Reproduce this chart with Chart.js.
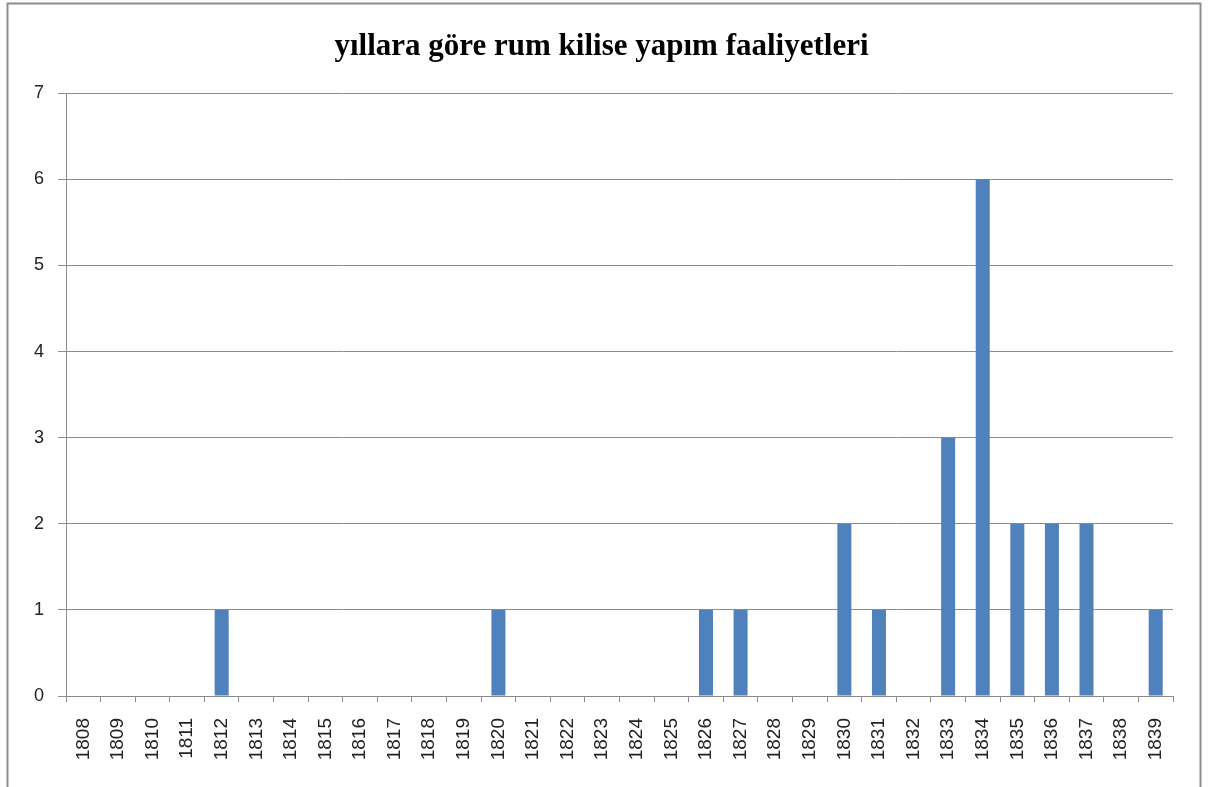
<!DOCTYPE html>
<html>
<head>
<meta charset="utf-8">
<script src="https://cdn.jsdelivr.net/npm/chart.js@4/dist/chart.umd.min.js"></script>
<style>
  html, body { margin: 0; padding: 0; background: #fff; }
  #wrap { width: 1209px; height: 787px; position: relative; }
</style>
</head>
<body>
<div id="wrap"><canvas id="grafik"></canvas></div>
<script>
// yillar ve kilise sayilari
var yillar = ['1808','1809','1810','1811','1812','1813','1814','1815','1816','1817',
              '1818','1819','1820','1821','1822','1823','1824','1825','1826','1827',
              '1828','1829','1830','1831','1832','1833','1834','1835','1836','1837',
              '1838','1839'];
var kiliseSayisi = [0,0,0,0,1,0,0,0,0,0,
                    0,0,1,0,0,0,0,0,1,1,
                    0,0,2,1,0,3,6,2,2,2,
                    0,1];
var yTicks = [0,1,2,3,4,5,6,7];

// dis cerceve
var cerceve = {
    id: 'cerceve',
    beforeDraw: function(chart) {
        var ctx = chart.ctx;
        ctx.save();
        ctx.fillStyle = '#fff';
        ctx.fillRect(0, 0, chart.width, chart.height);
        ctx.strokeStyle = '#8c8c8c';
        ctx.lineWidth = 2;
        ctx.strokeRect(7.5, 3.5, 1193, 800);
        ctx.restore();
    }
};

var grafik = new Chart(document.getElementById('grafik').getContext('2d'), {
    type: 'bar',
    data: {
        labels: yillar,
        datasets: [{
            data: kiliseSayisi,
            backgroundColor: '#4f81bd',
            borderWidth: 0,
            barPercentage: 0.405,
            categoryPercentage: 1
        }]
    },
    options: {
        responsive: true,
        maintainAspectRatio: false,
        animation: false,
        layout: { padding: { left: 30, right: 36, top: 0, bottom: 0 } },
        plugins: {
            legend: { display: false },
            tooltip: { enabled: false },
            title: {
                display: true,
                text: 'yıllara göre rum kilise yapım faaliyetleri',
                color: '#000',
                font: { family: 'Liberation Serif', size: 31, weight: 'bold', lineHeight: 1.2 },
                padding: { top: 28, bottom: 28 }
            }
        },
        scales: {
            x: {
                grid: { drawOnChartArea: false, drawTicks: true, tickLength: 6, color: '#8c8c8c', offset: true },
                border: { color: '#8c8c8c', width: 1 },
                ticks: {
                    color: '#222',
                    font: { family: 'Liberation Sans', size: 19 },
                    minRotation: 90, maxRotation: 90,
                    autoSkip: false,
                    padding: 16
                },
                afterFit: function(s) { s.height = 91; }
            },
            y: {
                min: 0, max: 7,
                afterBuildTicks: function(s) { s.ticks = yTicks.map(function(v) { return { value: v }; }); },
                grid: { color: '#8c8c8c', tickLength: 8 },
                border: { color: '#8c8c8c', width: 1 },
                ticks: {
                    color: '#222',
                    font: { family: 'Liberation Sans', size: 18 },
                    padding: 14
                },
                afterFit: function(s) { s.width = 36; }
            }
        }
    },
    plugins: [cerceve]
});
</script>
</body>
</html>
